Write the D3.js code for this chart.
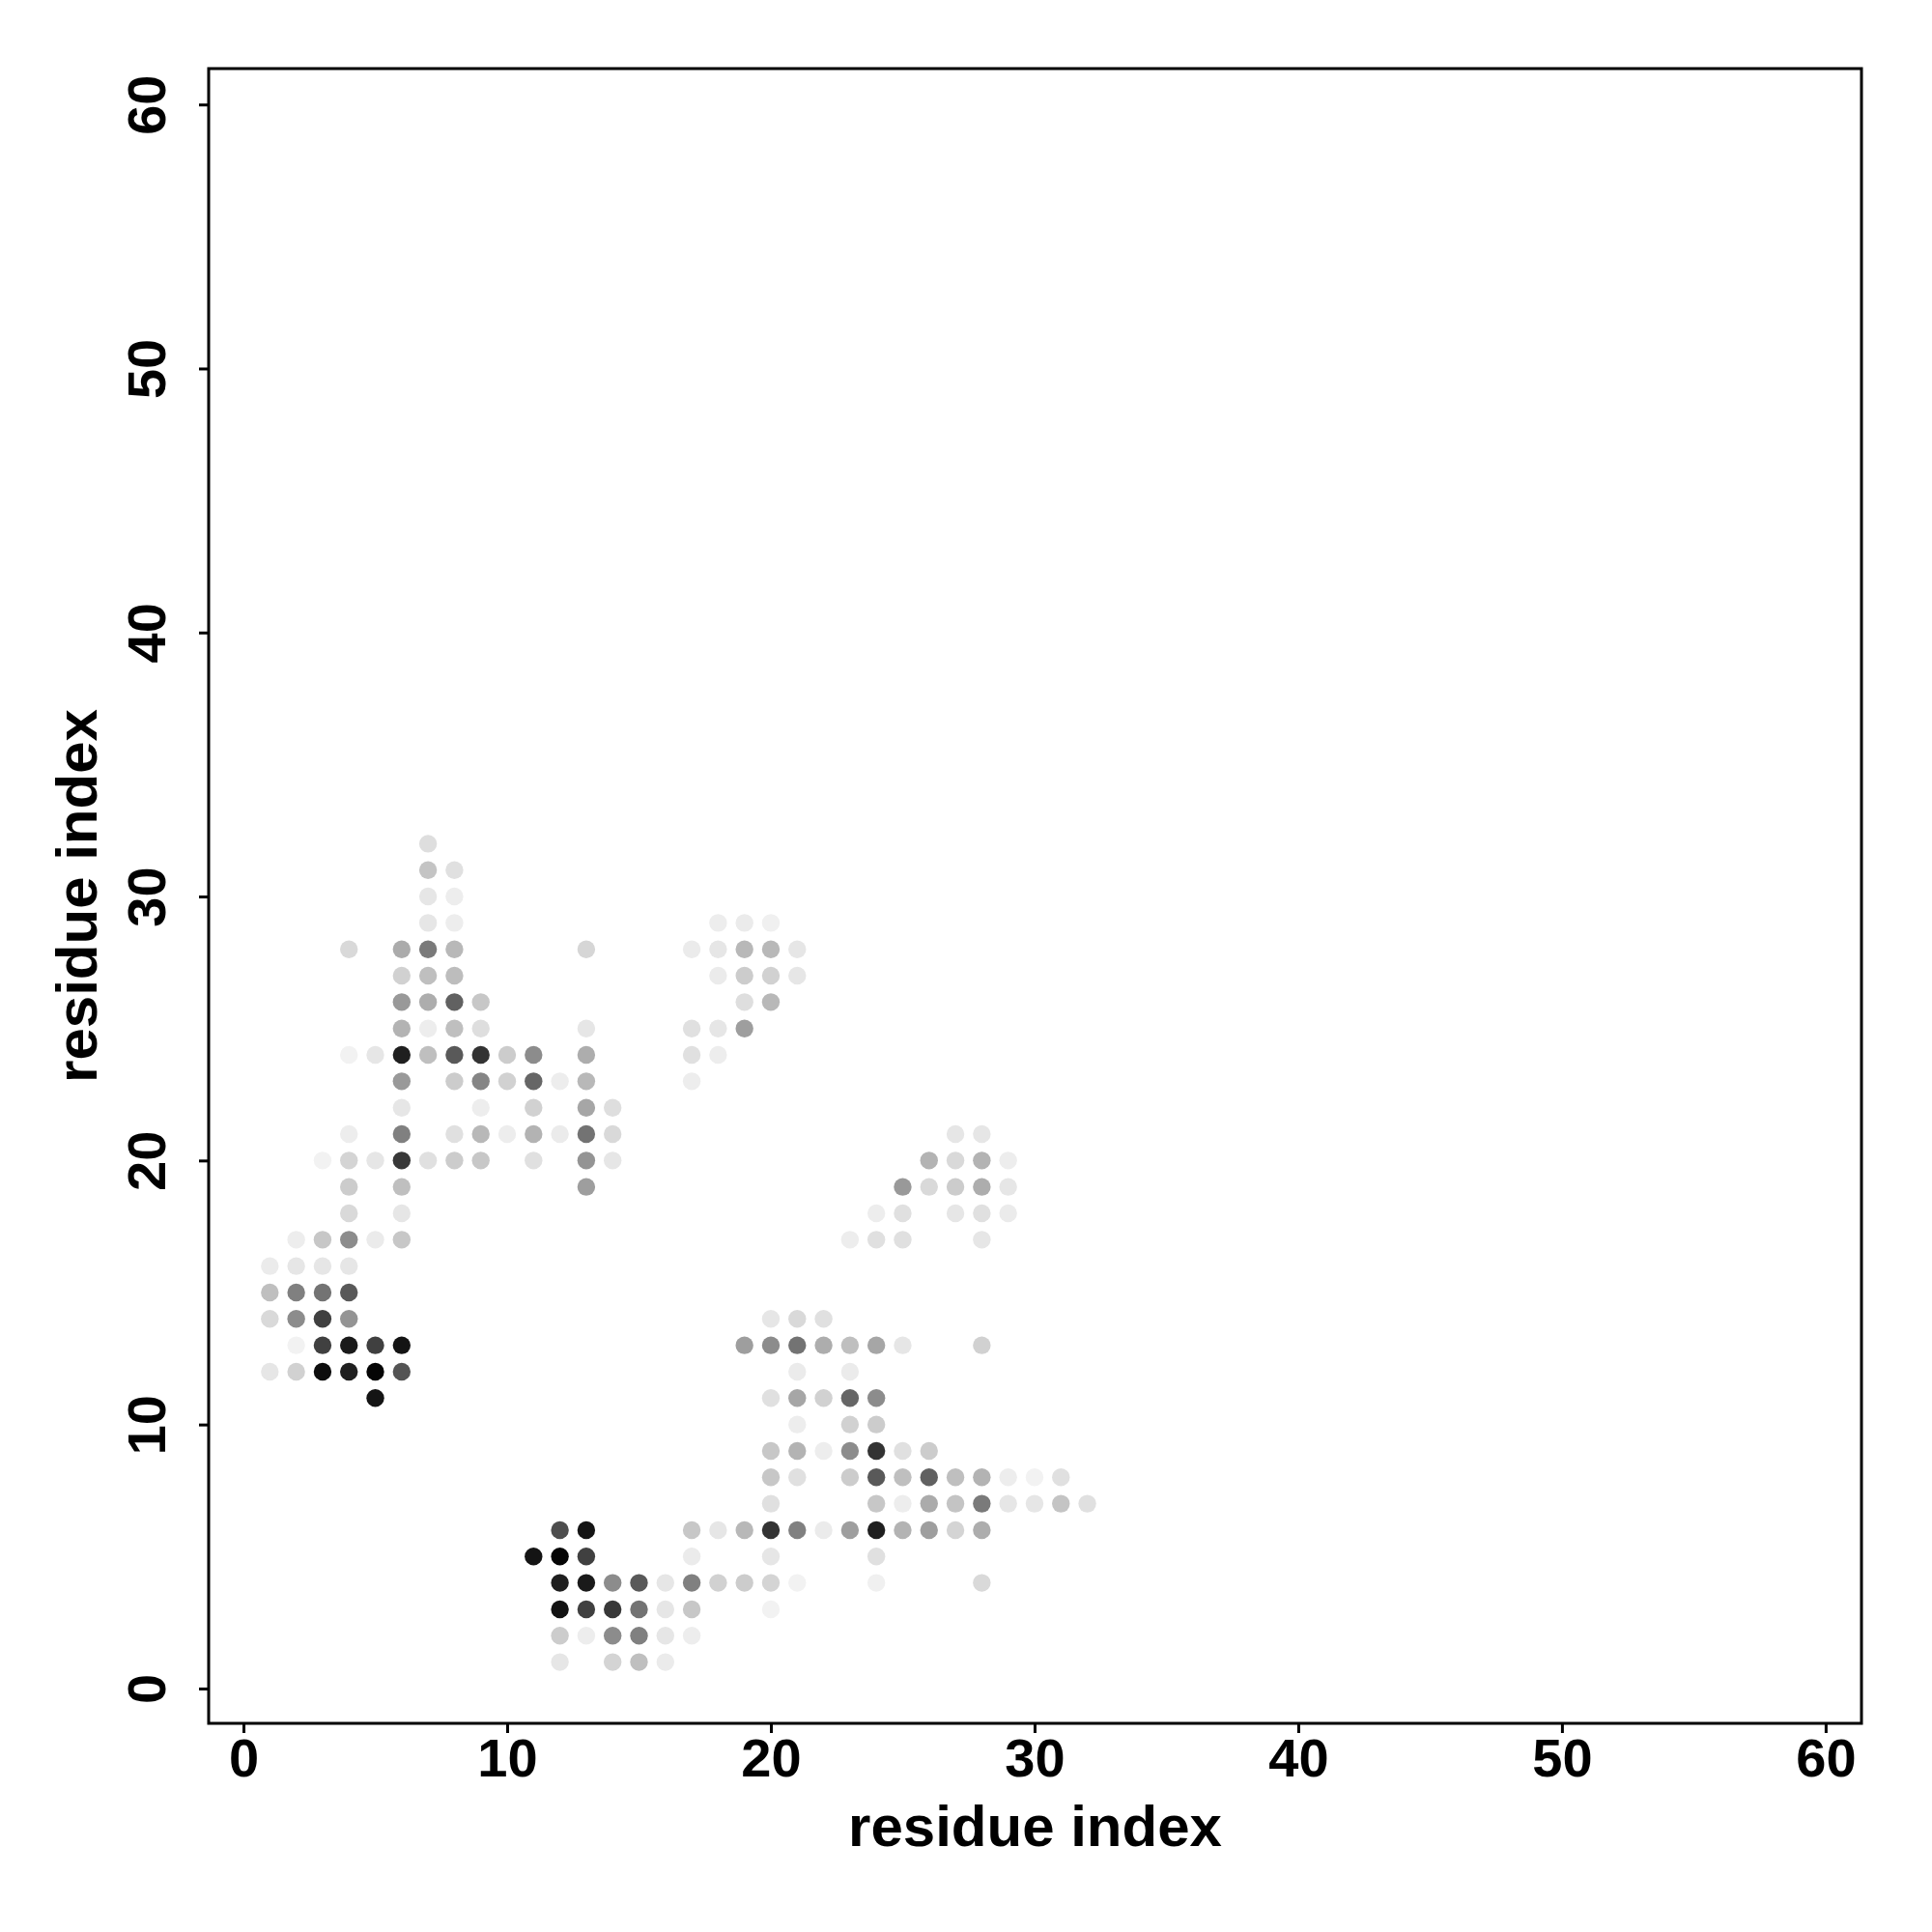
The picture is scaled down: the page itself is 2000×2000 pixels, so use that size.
<!DOCTYPE html>
<html>
<head>
<meta charset="utf-8">
<script src="https://cdn.jsdelivr.net/npm/d3@7/dist/d3.min.js"></script>
<style>
  html, body { margin: 0; padding: 0; background: #ffffff; }
  svg { display: block; }
  text { font-family: "Liberation Sans", Arial, Helvetica, sans-serif; font-weight: bold; fill: #000; }
</style>
</head>
<body>
<script>
// ---- data: residue contact map (row residue j, column residues i, grey shade 0=black .. 1=white)
const rowY = [32, 31, 30, 29, 28, 27, 26, 25, 24, 23, 22, 21, 20, 19, 18, 17, 16, 15, 14, 13, 12, 11, 10, 9, 8, 7, 6, 5, 4, 3, 2, 1];
const rowX = [
  [7],
  [7, 8],
  [7, 8],
  [7, 8, 18, 19, 20],
  [4, 6, 7, 8, 13, 17, 18, 19, 20, 21],
  [6, 7, 8, 18, 19, 20, 21],
  [6, 7, 8, 9, 19, 20],
  [6, 7, 8, 9, 13, 17, 18, 19],
  [4, 5, 6, 7, 8, 9, 10, 11, 13, 17, 18],
  [6, 8, 9, 10, 11, 12, 13, 17],
  [6, 9, 11, 13, 14],
  [4, 6, 8, 9, 10, 11, 12, 13, 14, 27, 28],
  [3, 4, 5, 6, 7, 8, 9, 11, 13, 14, 26, 27, 28, 29],
  [4, 6, 13, 25, 26, 27, 28, 29],
  [4, 6, 24, 25, 27, 28, 29],
  [2, 3, 4, 5, 6, 23, 24, 25, 28],
  [1, 2, 3, 4],
  [1, 2, 3, 4],
  [1, 2, 3, 4, 20, 21, 22],
  [2, 3, 4, 5, 6, 19, 20, 21, 22, 23, 24, 25, 28],
  [1, 2, 3, 4, 5, 6, 21, 23],
  [5, 20, 21, 22, 23, 24],
  [21, 23, 24],
  [20, 21, 22, 23, 24, 25, 26],
  [20, 21, 23, 24, 25, 26, 27, 28, 29, 30, 31],
  [20, 24, 25, 26, 27, 28, 29, 30, 31, 32],
  [12, 13, 17, 18, 19, 20, 21, 22, 23, 24, 25, 26, 27, 28],
  [11, 12, 13, 17, 20, 24],
  [12, 13, 14, 15, 16, 17, 18, 19, 20, 21, 24, 28],
  [12, 13, 14, 15, 16, 17, 20],
  [12, 13, 14, 15, 16, 17],
  [12, 14, 15, 16]
];
const rowShade = [
  [.87],
  [.77, .88],
  [.90, .93],
  [.90, .93, .93, .92, .94],
  [.85, .67, .48, .72, .84, .92, .90, .72, .72, .90],
  [.82, .75, .74, .92, .80, .82, .90],
  [.60, .68, .38, .78, .87, .72],
  [.70, .93, .75, .87, .90, .88, .90, .62],
  [.95, .90, .12, .75, .35, .20, .80, .55, .68, .88, .93],
  [.60, .80, .52, .82, .40, .93, .72, .93],
  [.90, .93, .82, .65, .87],
  [.93, .50, .88, .72, .93, .70, .92, .45, .85, .90, .90],
  [.95, .83, .90, .22, .88, .80, .78, .88, .58, .90, .70, .85, .70, .93],
  [.80, .75, .62, .60, .85, .80, .68, .90],
  [.85, .90, .93, .88, .90, .88, .92],
  [.93, .78, .55, .92, .78, .93, .88, .88, .90],
  [.92, .90, .90, .90],
  [.75, .50, .45, .35],
  [.85, .55, .25, .58, .90, .85, .88],
  [.95, .25, .10, .25, .08, .62, .55, .45, .68, .75, .65, .90, .82],
  [.90, .82, .05, .12, .02, .33, .92, .92],
  [.08, .88, .65, .82, .40, .55],
  [.93, .82, .80],
  [.78, .70, .93, .55, .20, .88, .80],
  [.78, .88, .80, .35, .75, .38, .75, .70, .93, .95, .88],
  [.88, .78, .93, .67, .77, .48, .90, .90, .77, .88],
  [.30, .08, .78, .90, .72, .20, .50, .92, .62, .12, .70, .62, .83, .68],
  [.08, .02, .25, .92, .90, .88],
  [.12, .10, .55, .35, .90, .50, .82, .80, .83, .95, .94, .85],
  [.07, .25, .22, .45, .90, .78, .95],
  [.80, .93, .55, .50, .90, .93],
  [.90, .83, .75, .92]
];
const tickValues = [0, 10, 20, 30, 40, 50, 60];
const axisDomain = [-1.32, 61.36];
const axisTitleX = "residue index";
const axisTitleY = "residue index";

// ---- build point table
const points = [];
rowY.forEach((yv, r) => {
  rowX[r].forEach((xv, k) => points.push({ x: xv, y: yv, shade: rowShade[r][k] }));
});

// ---- layout
const W = 2000, H = 2000;
const plot = { left: 216, right: 1927, top: 71, bottom: 1784 };

const svg = d3.select("body").append("svg").attr("width", W).attr("height", H);

const x = d3.scaleLinear().domain(axisDomain).range([plot.left, plot.right]);
const y = d3.scaleLinear().domain(axisDomain).range([plot.bottom, plot.top]);
const grey = d3.scaleLinear().domain([0, 1]).range(["#000000", "#ffffff"]);

// points
svg.append("g")
  .selectAll("circle")
  .data(points)
  .join("circle")
  .attr("cx", d => x(d.x))
  .attr("cy", d => y(d.y))
  .attr("r", 9.2)
  .attr("fill", d => grey(d.shade));

// frame
svg.append("rect")
  .attr("x", plot.left).attr("y", plot.top)
  .attr("width", plot.right - plot.left).attr("height", plot.bottom - plot.top)
  .attr("fill", "none").attr("stroke", "#000").attr("stroke-width", 3);

// x axis
const gx = svg.append("g")
  .attr("transform", `translate(0,${plot.bottom})`)
  .call(d3.axisBottom(x).tickValues(tickValues).tickSize(10).tickPadding(5).tickFormat(d3.format("d")));
gx.select(".domain").remove();
gx.selectAll(".tick line").attr("stroke", "#000").attr("stroke-width", 3);
gx.selectAll(".tick text")
  .attr("font-size", 56)
  .style("font-family", '"Liberation Sans", Arial, sans-serif')
  .style("font-weight", "bold")
  .attr("fill", "#000");

// y axis (labels rotated, reading upward)
const gy = svg.append("g")
  .attr("transform", `translate(${plot.left},0)`)
  .call(d3.axisLeft(y).tickValues(tickValues).tickSize(10).tickFormat(d3.format("d")));
gy.select(".domain").remove();
gy.selectAll(".tick line").attr("stroke", "#000").attr("stroke-width", 3);
gy.selectAll(".tick text")
  .attr("x", 0).attr("y", -45).attr("dy", null)
  .attr("transform", "rotate(-90)")
  .attr("text-anchor", "middle")
  .attr("font-size", 56)
  .style("font-family", '"Liberation Sans", Arial, sans-serif')
  .style("font-weight", "bold")
  .attr("fill", "#000");

// axis titles
svg.append("text")
  .attr("x", (plot.left + plot.right) / 2)
  .attr("y", 1911)
  .attr("text-anchor", "middle")
  .attr("font-size", 60)
  .text(axisTitleX);

svg.append("text")
  .attr("transform", `translate(100,${(plot.top + plot.bottom) / 2}) rotate(-90)`)
  .attr("text-anchor", "middle")
  .attr("font-size", 60)
  .text(axisTitleY);
</script>
</body>
</html>
